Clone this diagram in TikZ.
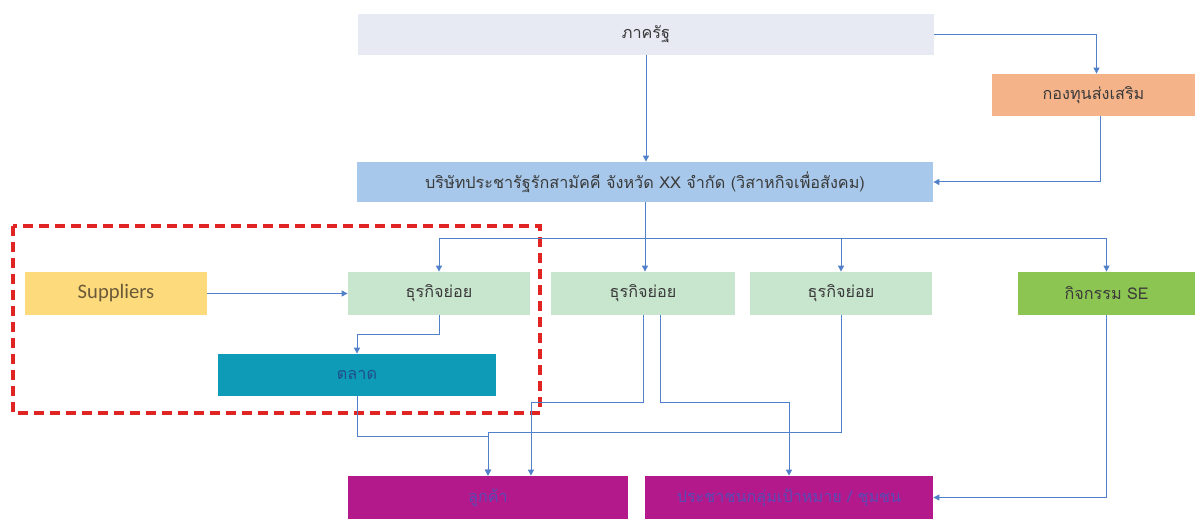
\documentclass[tikz,border=0pt]{standalone}
\usepackage{fontspec}
\setmainfont[Script=Thai]{Loma}
\newfontfamily\latinfont{Carlito}
\usetikzlibrary{arrows.meta,calc}
\definecolor{linec}{HTML}{5080C8}
\definecolor{govc}{HTML}{E7E9F3}
\definecolor{fundc}{HTML}{F5B38A}
\definecolor{compc}{HTML}{A7C8EA}
\definecolor{supc}{HTML}{FDDA7C}
\definecolor{suptext}{HTML}{6B5A3A}
\definecolor{busc}{HTML}{C8E5CE}
\definecolor{sec}{HTML}{8DC553}
\definecolor{mktc}{HTML}{0E9BB8}
\definecolor{magc}{HTML}{B4198C}
\definecolor{magtext}{HTML}{5A4AB4}
\definecolor{mkttext}{HTML}{1F4E8C}
\definecolor{dtext}{HTML}{3A3A3A}
\definecolor{redc}{HTML}{E02424}
\tikzset{
  box/.style={draw=none, inner sep=0pt, text=dtext, font=\fontsize{8.1}{10}\selectfont},
  arr/.style={draw=linec, line width=0.5pt, -{Triangle[length=3pt,width=3pt]}},
  redbox/.style={draw=redc, line width=1.6pt, dash pattern=on 5pt off 3pt}
}
\begin{document}
\begin{tikzpicture}[x=0.5pt,y=-0.5pt]
\useasboundingbox (0,0) rectangle (1195,519);
% boxes
\node[box, fill=govc, minimum width=288pt, minimum height=20.5pt] (gov) at (646,34.5) {ภาครัฐ};
\node[box, fill=fundc, minimum width=101.5pt, minimum height=21pt] (fund) at (1093.5,95) {กองทุนส่งเสริม};
\node[box, fill=compc, minimum width=288pt, minimum height=20pt] (comp) at (645,182) {บริษัทประชารัฐรักสามัคคี จังหวัด XX จำกัด (วิสาหกิจเพื่อสังคม)};
\node[box, fill=supc, text=suptext, minimum width=91pt, minimum height=21.5pt, font=\latinfont\fontsize{10.3}{12}\selectfont] (sup) at (116,293.5) {Suppliers};
\node[box, fill=busc, minimum width=91pt, minimum height=21.5pt] (b1) at (439,293.5) {ธุรกิจย่อย};
\node[box, fill=busc, minimum width=92pt, minimum height=21.5pt] (b2) at (643,293.5) {ธุรกิจย่อย};
\node[box, fill=busc, minimum width=91pt, minimum height=21.5pt] (b3) at (841,293.5) {ธุรกิจย่อย};
\node[box, fill=sec, minimum width=88.5pt, minimum height=21.5pt] (se) at (1106.5,293.5) {กิจกรรม SE};
\node[box, fill=mktc, text=mkttext, minimum width=139pt, minimum height=21pt] (mkt) at (357,375) {ตลาด};
\node[box, fill=magc, text=magtext, minimum width=140pt, minimum height=21.5pt] (cust) at (488,497.5) {ลูกค้า};
\node[box, fill=magc, text=magtext, minimum width=144pt, minimum height=21.5pt] (ppl) at (789,497.5) {ประชาชนกลุ่มเป้าหมาย / ชุมชน};
% dashed frame
\draw[redbox] (13,226) rectangle (540,413);
% connectors
\draw[arr] (gov.south) -- (gov.south |- comp.north);
\draw[arr] (gov.east) -| ($(fund.north)+(3,0)$);
\draw[arr] ($(fund.south)+(7,0)$) |- (comp.east);
\coordinate (split) at (645,238);
\draw[arr] (comp.south) -- (comp.south |- b2.north);
\draw[arr] (split) -| (b1.north);
\draw[arr] (split) -| (b3.north);
\draw[arr] (split) -| (se.north);
\draw[arr] (sup.east) -- (b1.west);
\draw[arr] (b1.south) -- ++(0,19) -| (mkt.north);
\draw[arr] (mkt.south) -- ++(0,40) -| (cust.north);
\coordinate (j3) at (841,432);
\draw[arr] (b3.south) -- (j3) -| (cust.north);
\coordinate (j2) at (644,402);
\draw[arr] (b2.south) -- (b2.south |- j2) -| ($(cust.north)+(43,0)$);
\coordinate (j2b) at (660,402);
\draw[arr] (b2.south -| j2b) -- (j2b) -| (ppl.north);
\draw[arr] (se.south) |- (ppl.east);
\end{tikzpicture}
\end{document}
